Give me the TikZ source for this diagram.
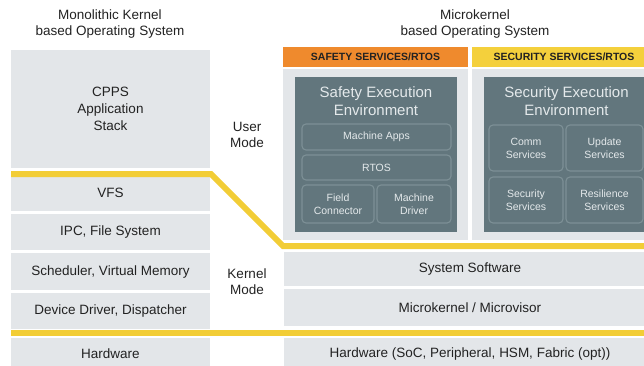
\documentclass[tikz,border=0pt]{standalone}
\usepackage{fontspec}
\setmainfont{Liberation Sans}
\usetikzlibrary{positioning}
\definecolor{panelgray}{HTML}{E3E6E9}
\definecolor{slate}{HTML}{62767D}
\definecolor{slateline}{HTML}{7D9096}
\definecolor{safetyorange}{HTML}{EF8A2D}
\definecolor{secyellow}{HTML}{F4D03C}
\definecolor{modeline}{HTML}{F2CD36}
\definecolor{ink}{HTML}{222222}
\definecolor{paleink}{HTML}{E4E9EB}

\begin{document}
\begin{tikzpicture}[x=1pt,y=-1pt,
  layer/.style={fill=panelgray,text=ink,inner sep=0pt,outer sep=0pt,anchor=north west,align=center,font=\fontsize{13.5}{17}\selectfont},
  header/.style={inner sep=0pt,outer sep=0pt,anchor=north west,minimum height=20pt,text=ink,font=\bfseries\fontsize{10.5}{12}\selectfont},
  envbox/.style={fill=slate,inner sep=0pt,outer sep=0pt,anchor=north west},
  envtitle/.style={inner sep=0pt,text=paleink,align=center,font=\fontsize{15}{18}\selectfont},
  svcbox/.style={draw=slateline,line width=1.1pt,rounded corners=4pt,inner sep=0pt,outer sep=0pt,anchor=north west,align=center,text=paleink,font=\fontsize{10.5}{13}\selectfont},
  caption/.style={inner sep=0pt,text=ink,align=center,font=\fontsize{13.5}{16}\selectfont},
  boundary/.style={draw=modeline,line width=6pt}]
  \useasboundingbox (0,0) rectangle (644,365);
  \clip (0,0) rectangle (644,365);
  % titles and mode labels
  \node[caption] (monotitle) at (110,24) {Monolithic Kernel\\based Operating System};
  \node[caption] (microtitle) at (475,24) {Microkernel\\based Operating System};
  \node[caption] (usermode) at (247,135) {User\\Mode};
  \node[caption] (kernelmode) at (247,282) {Kernel\\Mode};
  % monolithic stack
  \node[layer,minimum width=199pt,minimum height=118pt] (cpps) at (11,50) {CPPS\\Application\\Stack};
  \node[layer,minimum width=199pt,minimum height=37pt] (vfs) at (11,174) {VFS};
  \node[layer,minimum width=199pt,minimum height=36pt] (ipc) at (11,214) {IPC, File System};
  \node[layer,minimum width=199pt,minimum height=37pt] (sched) at (11,253) {Scheduler, Virtual Memory};
  \node[layer,minimum width=199pt,minimum height=36pt] (driver) at (11,293) {Device Driver, Dispatcher};
  \node[layer,minimum width=199pt,minimum height=32pt] (monohw) at (11,338) {Hardware};
  % microkernel stack
  \node[header,fill=safetyorange,minimum width=185pt] (safetyhead) at (283,47) {SAFETY SERVICES/RTOS};
  \node[header,fill=secyellow,minimum width=184pt] (securityhead) at (472,47) {SECURITY SERVICES/RTOS};
  \node[layer,minimum width=185pt,minimum height=171pt] (safetypanel) at (283,69) {};
  \node[layer,minimum width=184pt,minimum height=171pt] (securitypanel) at (472,69) {};
  \node[envbox,minimum width=162pt,minimum height=155pt] (safetyenv) at (295,77) {};
  \node[envbox,minimum width=165pt,minimum height=155pt] (securityenv) at (484,77) {};
  \node[envtitle,below=9pt of safetyenv.north] (safetytitle) {Safety Execution\\Environment};
  \node[envtitle,below=9pt of securityenv.north] (securitytitle) {Security Execution\\Environment};
  \node[svcbox,minimum width=149pt,minimum height=26pt] (apps) at (302,124) {Machine Apps};
  \node[svcbox,minimum width=149pt,minimum height=25pt] (rtos) at (302,155) {RTOS};
  \node[svcbox,minimum width=72pt,minimum height=38pt] (field) at (302,185) {Field\\Connector};
  \node[svcbox,minimum width=74pt,minimum height=38pt] (mdriver) at (377,185) {Machine\\Driver};
  \node[svcbox,minimum width=74pt,minimum height=46pt] (comm) at (489,125) {Comm\\Services};
  \node[svcbox,minimum width=77pt,minimum height=46pt] (update) at (566,125) {Update\\Services};
  \node[svcbox,minimum width=74pt,minimum height=46pt] (secsvc) at (489,177) {Security\\Services};
  \node[svcbox,minimum width=77pt,minimum height=46pt] (resil) at (566,177) {Resilience\\Services};
  \node[layer,minimum width=372pt,minimum height=34pt] (syssw) at (284,252) {System Software};
  \node[layer,minimum width=372pt,minimum height=37pt] (ukernel) at (284,289) {Microkernel / Microvisor};
  \node[layer,minimum width=372pt,minimum height=32pt] (microhw) at (284,338) {Hardware (SoC, Peripheral, HSM, Fabric (opt))};
  % user/kernel and kernel/hardware boundaries
  \draw[boundary] (11,174) -- (211,174) -- (283,246) -- (660,246);
  \draw[boundary] (11,332.5) -- (660,332.5);
\end{tikzpicture}
\end{document}
